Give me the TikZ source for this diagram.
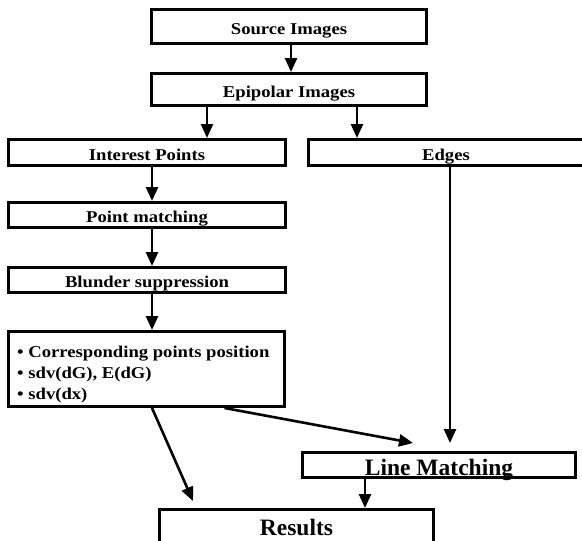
\documentclass[tikz,border=0pt]{standalone}
\usepackage{fontspec}
\setmainfont{Liberation Serif}
\usetikzlibrary{arrows.meta}
\newcommand\widetxt[1]{\scalebox{1.13}[1]{#1}}
\tikzset{
  box/.style={draw, rectangle, line width=3pt, inner sep=0pt, outer sep=1.5pt,
    font=\fontsize{16.5}{21}\selectfont\bfseries, text height=15.6pt, text depth=0pt},
  bigbox/.style={box, font=\fontsize{23.5}{28}\selectfont\bfseries},
  txt/.style={inner sep=0pt, anchor=base west, font=\fontsize{16.5}{21}\selectfont\bfseries},
  arr/.style={line width=2.6pt, -{Triangle[length=14pt,width=12pt]}},
}
\begin{document}
\begin{tikzpicture}[x=1pt,y=-1pt]
\useasboundingbox (0,0) rectangle (582,541);
\fill[white] (0,0) rectangle (582,541);
\clip (0,0) rectangle (582,541);
% boxes
\node[box, minimum width=275pt, minimum height=34pt] (src) at (289,26.5) {\widetxt{Source Images}};
\node[box, minimum width=275pt, minimum height=32pt] (epi) at (289,89.5) {\widetxt{Epipolar Images}};
\node[box, minimum width=277pt, minimum height=26pt] (int) at (147,152.5) {\widetxt{Interest Points}};
\node[box, minimum width=275pt, minimum height=26pt] (edges) at (446,152.5) {\widetxt{Edges}};
\node[box, minimum width=277pt, minimum height=25pt] (pm) at (147,215) {\widetxt{Point matching}};
\node[box, minimum width=277pt, minimum height=25pt] (bs) at (147,280) {\widetxt{Blunder suppression}};
\node[box, minimum width=276pt, minimum height=75pt] (corr) at (146.5,369) {};
\node[txt] (c1) at (17,357) {\widetxt{• Corresponding points position}};
\node[txt] (c2) at (17,378) {\widetxt{• sdv(dG), E(dG)}};
\node[txt] (c3) at (17,399) {\widetxt{• sdv(dx)}};
\node[bigbox, minimum width=273pt, minimum height=25pt, text height=20pt] (lm) at (439,465) {Line Matching};
\draw[line width=3pt] ([xshift=1.5pt,yshift=1.5pt]lm.south west) -- ([xshift=-1.5pt,yshift=1.5pt]lm.south east);
\node[bigbox, minimum width=274pt, minimum height=51pt, text height=12pt, text depth=12pt] (res) at (296.5,535) {Results};
% connectors
\draw[arr] ([xshift=2pt]src.south) -- ([xshift=2pt]epi.north);
\draw[arr] ([xshift=-82pt]epi.south) -- ([xshift=60pt]int.north);
\draw[arr] ([xshift=68pt]epi.south) -- ([xshift=-89pt]edges.north);
\draw[arr] ([xshift=5pt]int.south) -- ([xshift=5pt]pm.north);
\draw[arr] ([xshift=5pt]pm.south) -- ([xshift=5pt]bs.north);
\draw[arr] ([xshift=5pt]bs.south) -- ([xshift=5.5pt]corr.north);
\draw[arr] ([xshift=4pt]edges.south) -- ([xshift=11pt,yshift=8pt]lm.north);
\draw[arr] ([xshift=78pt]corr.south) -- ([xshift=-26pt,yshift=8pt]lm.north);
\draw[arr] ([xshift=5.5pt]corr.south) -- ([xshift=-103.5pt,yshift=7pt]res.north);
\draw[arr] ([xshift=-74pt]lm.south) -- ([xshift=68.5pt]res.north);
\end{tikzpicture}
\end{document}
